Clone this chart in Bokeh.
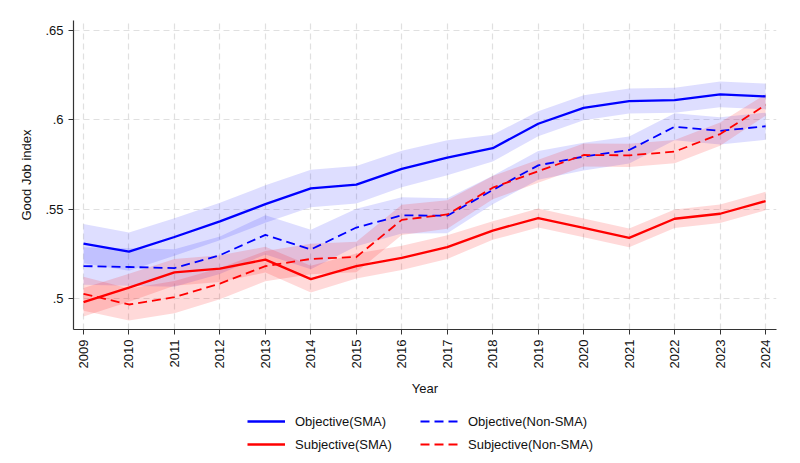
import numpy as np
from bokeh.plotting import figure
from bokeh.layouts import column
from bokeh.models import (Legend, LegendItem, FixedTicker, Range1d,
                          CustomJSTickFormatter)
from bokeh.embed import file_html
from bokeh.resources import INLINE

# ---------------- data ----------------
years = [2009, 2010, 2011, 2012, 2013, 2014, 2015, 2016,
         2017, 2018, 2019, 2020, 2021, 2022, 2023, 2024]

obj_sma = [0.5307, 0.5262, 0.5344, 0.5431, 0.5528, 0.5616, 0.5637, 0.5725,
           0.5788, 0.5841, 0.5978, 0.6067, 0.6105, 0.6110, 0.6142, 0.6131]
obj_non = [0.5181, 0.5176, 0.5170, 0.5242, 0.5356, 0.5274, 0.5397, 0.5465,
           0.5463, 0.5607, 0.5745, 0.5794, 0.5831, 0.5961, 0.5938, 0.5964]
sub_sma = [0.4979, 0.5060, 0.5146, 0.5167, 0.5217, 0.5108, 0.5181, 0.5227,
           0.5287, 0.5380, 0.5450, 0.5395, 0.5339, 0.5446, 0.5474, 0.5545]
sub_non = [0.5026, 0.4966, 0.5007, 0.5083, 0.5181, 0.5221, 0.5232, 0.5440,
           0.5470, 0.5620, 0.5712, 0.5803, 0.5801, 0.5822, 0.5920, 0.6083]

# confidence-interval half widths
obj_sma_ci = [0.0110, 0.0107, 0.0105, 0.0105, 0.0105, 0.0105, 0.0105, 0.0102,
              0.0098, 0.0075, 0.0070, 0.0070, 0.0070, 0.0070, 0.0072, 0.0072]
obj_non_ci = [0.0105, 0.0105, 0.0105, 0.0105, 0.0110, 0.0110, 0.0105, 0.0102,
              0.0098, 0.0080, 0.0080, 0.0078, 0.0076, 0.0076, 0.0076, 0.0076]
sub_sma_ci = [0.0080, 0.0078, 0.0075, 0.0075, 0.0072, 0.0075, 0.0070, 0.0068,
              0.0066, 0.0052, 0.0053, 0.0053, 0.0053, 0.0052, 0.0052, 0.0052]
sub_non_ci = [0.0095, 0.0090, 0.0090, 0.0088, 0.0085, 0.0085, 0.0085, 0.0085,
              0.0080, 0.0065, 0.0065, 0.0065, 0.0065, 0.0065, 0.0065, 0.0060]

series_labels = ["Objective(SMA)", "Objective(Non-SMA)",
                 "Subjective(SMA)", "Subjective(Non-SMA)"]
y_ticks = [0.5, 0.55, 0.6, 0.65]

# ---------------- main figure ----------------
FONT = "Liberation Sans"
BLUE = "#0000FF"
RED = "#FF0000"
W = 792

p = figure(width=W, height=400, output_backend="svg", toolbar_location=None,
           x_range=Range1d(2008.78, 2024.24), y_range=Range1d(0.4826, 0.6556),
           min_border_left=73, min_border_right=16, min_border_top=20,
           min_border_bottom=71)
p.outline_line_color = None
p.background_fill_color = "white"
p.border_fill_color = "white"

series = [
    (obj_sma, obj_sma_ci, BLUE, 0.13, None),
    (obj_non, obj_non_ci, BLUE, 0.13, "9 5"),
    (sub_sma, sub_sma_ci, RED, 0.15, None),
    (sub_non, sub_non_ci, RED, 0.15, "9 5"),
]

# bands first
for vals, ci, col, alpha, dash in series:
    v = np.array(vals)
    c = np.array(ci)
    p.varea(x=years, y1=v - c, y2=v + c, fill_color=col, fill_alpha=alpha)

for vals, ci, col, alpha, dash in series:
    if dash is None:
        p.line(years, vals, line_color=col, line_width=2.3)
    else:
        p.line(years, vals, line_color=col, line_width=1.8, line_dash=dash)

# axes
p.xaxis.ticker = FixedTicker(ticks=years)
p.xaxis.major_label_orientation = np.pi / 2
p.xaxis.axis_label = "Year"
p.yaxis.ticker = FixedTicker(ticks=y_ticks)
p.yaxis.formatter = CustomJSTickFormatter(
    code="return tick.toFixed(2).replace(/0+$/, '').replace(/^0/, '');")
p.yaxis.axis_label = "Good Job index"

for ax in (p.xaxis[0], p.yaxis[0]):
    ax.axis_line_color = "#333333"
    ax.axis_line_width = 1.2
    ax.major_tick_line_color = "#333333"
    ax.major_tick_out = 5
    ax.major_tick_in = 0
    ax.minor_tick_line_color = None
    ax.major_label_text_font = FONT
    ax.major_label_text_font_size = "13px"
    ax.major_label_text_color = "#111111"
    ax.axis_label_text_font = FONT
    ax.axis_label_text_font_size = "13px"
    ax.axis_label_text_font_style = "normal"
    ax.axis_label_text_color = "#111111"
    ax.major_label_standoff = 5
p.xaxis.axis_label_standoff = 10
p.yaxis.axis_label_standoff = 8

# grid
p.xgrid.ticker = FixedTicker(ticks=years)
p.ygrid.ticker = FixedTicker(ticks=y_ticks)
for g in (p.xgrid[0], p.ygrid[0]):
    g.grid_line_color = "#e0e0e0"
    g.grid_line_dash = "6 4"
    g.grid_line_width = 1.2

# ---------------- legend strip ----------------
# The series are repeated here only so the legend has real renderers;
# the strip's ranges keep them out of view.
LG_H = 60
lg = figure(width=W, height=LG_H, output_backend="svg", toolbar_location=None,
            x_range=Range1d(0, 1), y_range=Range1d(0, 1),
            x_axis_location=None, y_axis_location=None,
            min_border=0)
lg.outline_line_color = None
lg.grid.visible = False

items = []
for lab, (vals, ci, col, alpha, dash) in zip(series_labels, series):
    if dash is None:
        r = lg.line(years, vals, line_color=col, line_width=2.3)
    else:
        r = lg.line(years, vals, line_color=col, line_width=1.8, line_dash=dash)
    items.append(LegendItem(label=lab, renderers=[r]))

legend = Legend(items=items, orientation="horizontal", ncols=2,
                glyph_width=38, glyph_height=20, label_height=20,
                label_width=122, label_standoff=10, spacing=3,
                padding=2, margin=0, border_line_color=None,
                background_fill_alpha=0, location=(174, 6),
                label_text_font=FONT, label_text_font_size="13px",
                label_text_color="#111111")
lg.add_layout(legend, "center")

layout = column(p, lg, spacing=0)
open("out.html", "w").write(file_html(layout, INLINE))
